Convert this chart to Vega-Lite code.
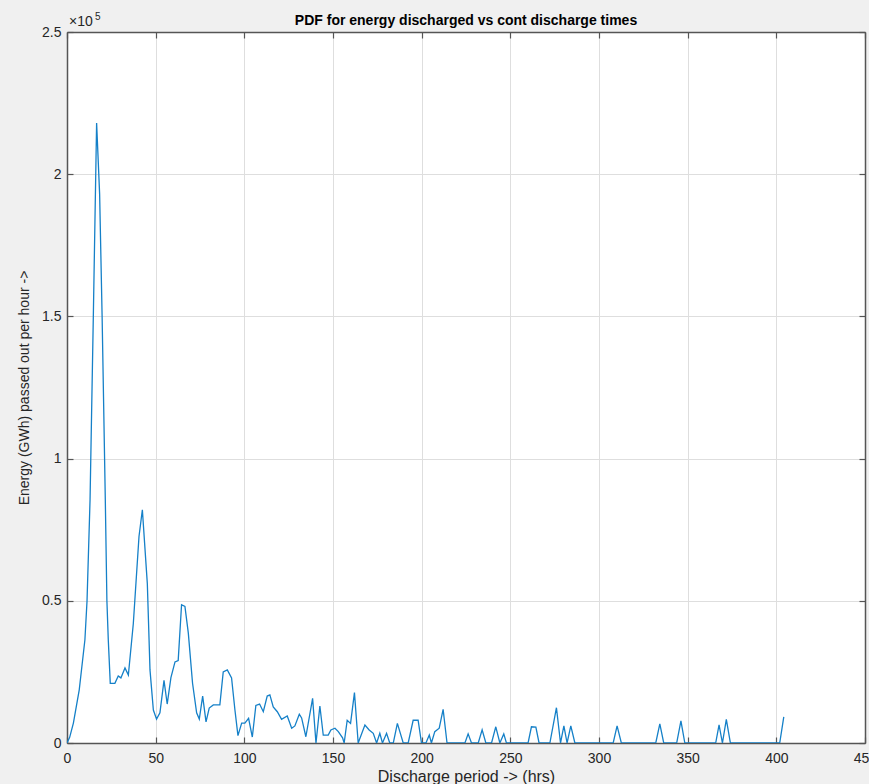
{
  "$schema": "https://vega.github.io/schema/vega-lite/v6.json",
  "autosize": "none",
  "width": 798,
  "height": 711,
  "padding": {"left": 67, "top": 32, "right": 4, "bottom": 41},
  "background": "#f0f0f0",
  "config": {
    "font": "Liberation Sans",
    "view": {"fill": "white", "stroke": null},
    "axis": {
      "labelFont": "Liberation Sans",
      "titleFont": "Liberation Sans",
      "labelFontSize": 14,
      "titleFontSize": 14,
      "labelColor": "#262626",
      "titleColor": "#262626",
      "titleFontWeight": "normal",
      "domainColor": "#555555",
      "domainWidth": 1.5,
      "tickColor": "#555555",
      "tickSize": -6,
      "tickWidth": 1.2,
      "gridColor": "#dedede",
      "gridWidth": 1,
      "labelPadding": 12
    },
    "title": {"font": "Liberation Sans", "fontSize": 14, "fontWeight": "bold", "color": "#000000", "offset": -16}
  },
  "title": {"text": "PDF for energy discharged vs cont discharge times", "anchor": "middle"},
  "data": {
    "values": [
      {"x": 0, "y": 0},
      {"x": 1.5, "y": 2000},
      {"x": 3.6, "y": 7000},
      {"x": 6.9, "y": 18700},
      {"x": 10.1, "y": 36300},
      {"x": 11.3, "y": 50000},
      {"x": 13.0, "y": 85500},
      {"x": 14.9, "y": 152000},
      {"x": 16.7, "y": 218000},
      {"x": 18.4, "y": 193000},
      {"x": 19.8, "y": 150000},
      {"x": 21.6, "y": 85500},
      {"x": 22.5, "y": 50000},
      {"x": 23.3, "y": 36000},
      {"x": 24.4, "y": 21000},
      {"x": 27, "y": 21000},
      {"x": 28.9, "y": 23600},
      {"x": 30.4, "y": 22900},
      {"x": 32.7, "y": 26400},
      {"x": 34.6, "y": 23900},
      {"x": 37.4, "y": 42000},
      {"x": 40.6, "y": 72600},
      {"x": 42.5, "y": 82000},
      {"x": 45.3, "y": 56000},
      {"x": 46.8, "y": 25700},
      {"x": 48.7, "y": 11600},
      {"x": 50.5, "y": 8400},
      {"x": 52.4, "y": 10600},
      {"x": 54.7, "y": 22000},
      {"x": 56.5, "y": 13700},
      {"x": 58.6, "y": 23000},
      {"x": 60.9, "y": 28500},
      {"x": 62.7, "y": 29000},
      {"x": 64.6, "y": 48600},
      {"x": 66.5, "y": 48000},
      {"x": 68.4, "y": 38700},
      {"x": 70.8, "y": 21000},
      {"x": 73.1, "y": 10600},
      {"x": 74.6, "y": 8400},
      {"x": 76.5, "y": 16500},
      {"x": 78.4, "y": 7400},
      {"x": 80.2, "y": 12300},
      {"x": 82.5, "y": 13400},
      {"x": 86.2, "y": 13400},
      {"x": 88.1, "y": 25000},
      {"x": 90.4, "y": 25700},
      {"x": 92.8, "y": 22900},
      {"x": 94.7, "y": 11600},
      {"x": 96.4, "y": 2600},
      {"x": 98.5, "y": 7000},
      {"x": 100.3, "y": 7000},
      {"x": 102.4, "y": 8700},
      {"x": 104.5, "y": 2100},
      {"x": 106.5, "y": 13200},
      {"x": 108.6, "y": 13700},
      {"x": 110.7, "y": 11000},
      {"x": 112.9, "y": 16500},
      {"x": 114.4, "y": 16900},
      {"x": 116.3, "y": 12700},
      {"x": 118.6, "y": 11000},
      {"x": 121, "y": 8300},
      {"x": 124.2, "y": 9500},
      {"x": 126.7, "y": 5200},
      {"x": 128.5, "y": 6000},
      {"x": 131, "y": 10100},
      {"x": 132.3, "y": 8800},
      {"x": 134.7, "y": 2200},
      {"x": 138.5, "y": 15700},
      {"x": 140.4, "y": 0},
      {"x": 142.6, "y": 13000},
      {"x": 144.5, "y": 2800},
      {"x": 147.3, "y": 2800},
      {"x": 148.8, "y": 4600},
      {"x": 151.1, "y": 5200},
      {"x": 153, "y": 4000},
      {"x": 155.4, "y": 1800},
      {"x": 156.3, "y": 0},
      {"x": 158, "y": 8000},
      {"x": 159.9, "y": 6900},
      {"x": 162.1, "y": 17700},
      {"x": 164.2, "y": 0},
      {"x": 168, "y": 6300},
      {"x": 170.4, "y": 4600},
      {"x": 172.7, "y": 3400},
      {"x": 174.6, "y": 0},
      {"x": 176.4, "y": 3400},
      {"x": 177.9, "y": 0},
      {"x": 180.2, "y": 3400},
      {"x": 182, "y": 0},
      {"x": 184, "y": 0},
      {"x": 186.3, "y": 6900},
      {"x": 189.6, "y": 0},
      {"x": 192.4, "y": 0},
      {"x": 195.2, "y": 8000},
      {"x": 198, "y": 8000},
      {"x": 199.9, "y": 0},
      {"x": 202.4, "y": 0},
      {"x": 204.3, "y": 2800},
      {"x": 205.5, "y": 0},
      {"x": 207.4, "y": 4000},
      {"x": 209.9, "y": 5200},
      {"x": 212.1, "y": 11800},
      {"x": 214.3, "y": 0},
      {"x": 224.4, "y": 0},
      {"x": 226.2, "y": 3200},
      {"x": 228.1, "y": 0},
      {"x": 231.9, "y": 0},
      {"x": 234.1, "y": 4600},
      {"x": 236.2, "y": 0},
      {"x": 239.4, "y": 0},
      {"x": 241.8, "y": 5700},
      {"x": 244.1, "y": 0},
      {"x": 246.3, "y": 3200},
      {"x": 247.8, "y": 0},
      {"x": 260, "y": 0},
      {"x": 261.9, "y": 5700},
      {"x": 264.4, "y": 5600},
      {"x": 266.2, "y": 0},
      {"x": 272.3, "y": 0},
      {"x": 276, "y": 12400},
      {"x": 278.3, "y": 0},
      {"x": 280.2, "y": 6000},
      {"x": 282, "y": 0},
      {"x": 284.1, "y": 6000},
      {"x": 286.4, "y": 0},
      {"x": 308, "y": 0},
      {"x": 310.2, "y": 6000},
      {"x": 312.6, "y": 0},
      {"x": 332, "y": 0},
      {"x": 334.3, "y": 6700},
      {"x": 336.5, "y": 0},
      {"x": 343.8, "y": 0},
      {"x": 346.2, "y": 7800},
      {"x": 348.4, "y": 0},
      {"x": 365.8, "y": 0},
      {"x": 367.7, "y": 6400},
      {"x": 369.6, "y": 0},
      {"x": 371.8, "y": 8300},
      {"x": 374.1, "y": 0},
      {"x": 401.9, "y": 0},
      {"x": 404.2, "y": 9200}
    ]
  },
  "resolve": {"axis": {"x": "independent", "y": "independent"}},
  "layer": [
    {
      "mark": {"type": "line", "color": "#1580c8", "strokeWidth": 1.3, "clip": true},
      "encoding": {
        "x": {
          "field": "x", "type": "quantitative",
          "scale": {"domain": [0, 450], "nice": false, "zero": false},
          "axis": {"values": [0, 50, 100, 150, 200, 250, 300, 350, 400, 450], "title": "Discharge period -> (hrs)", "titleFontSize": 16, "labelPadding": 14, "titlePadding": 3, "labelFlush": false, "labelOverlap": false}
        },
        "y": {
          "field": "y", "type": "quantitative",
          "scale": {"domain": [0, 250000], "nice": false},
          "axis": {"values": [0, 50000, 100000, 150000, 200000, 250000], "labelExpr": "datum.value / 100000", "title": "Energy (GWh) passed out per hour ->", "titlePadding": 10, "labelFlush": false, "labelOverlap": false}
        }
      }
    },
    {
      "mark": {"type": "line", "strokeOpacity": 0},
      "encoding": {
        "x": {
          "field": "x", "type": "quantitative",
          "scale": {"domain": [0, 450], "nice": false, "zero": false},
          "axis": {"orient": "top", "values": [0, 50, 100, 150, 200, 250, 300, 350, 400, 450], "labels": false, "grid": false, "title": null}
        },
        "y": {
          "field": "y", "type": "quantitative",
          "scale": {"domain": [0, 250000], "nice": false},
          "axis": {"orient": "right", "values": [0, 50000, 100000, 150000, 200000, 250000], "labels": false, "grid": false, "title": null}
        }
      }
    },
    {
      "data": {"values": [{"label": "×10", "exp": "5"}]},
      "layer": [
        {
          "mark": {"type": "text", "align": "left", "baseline": "bottom", "dx": 2, "dy": -3, "fontSize": 14, "color": "#262626", "font": "Liberation Sans"},
          "encoding": {
            "x": {"datum": 0, "type": "quantitative", "scale": {"domain": [0, 450], "nice": false, "zero": false}, "axis": null},
            "y": {"datum": 250000, "type": "quantitative", "scale": {"domain": [0, 250000], "nice": false}, "axis": null},
            "text": {"field": "label"}
          }
        },
        {
          "mark": {"type": "text", "align": "left", "baseline": "bottom", "dx": 28, "dy": -10, "fontSize": 10, "color": "#262626", "font": "Liberation Sans"},
          "encoding": {
            "x": {"datum": 0, "type": "quantitative", "scale": {"domain": [0, 450], "nice": false, "zero": false}, "axis": null},
            "y": {"datum": 250000, "type": "quantitative", "scale": {"domain": [0, 250000], "nice": false}, "axis": null},
            "text": {"field": "exp"}
          }
        }
      ]
    }
  ]
}
